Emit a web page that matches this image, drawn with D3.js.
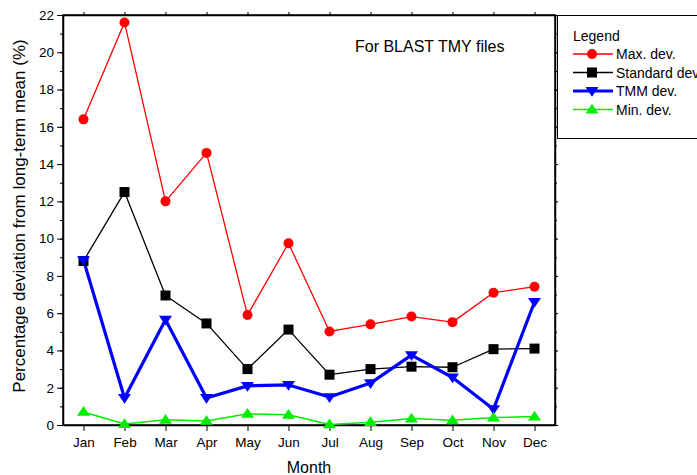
<!DOCTYPE html>
<html>
<head>
<meta charset="utf-8">
<script src="https://cdn.jsdelivr.net/npm/d3@7"></script>
<style>
  html, body { margin: 0; padding: 0; background: #fff; }
  svg { display: block; font-family: "Liberation Sans", Arial, sans-serif; }
</style>
</head>
<body>
<svg id="chart" width="697" height="475"></svg>
<script>
// Monthly percentage deviation from the long-term mean
const months = ["Jan","Feb","Mar","Apr","May","Jun","Jul","Aug","Sep","Oct","Nov","Dec"];
const maxDev = [16.4, 21.6, 12.0, 14.6, 5.9, 9.75, 5.02, 5.4, 5.82, 5.52, 7.1, 7.42];
const stdDev = [8.8, 12.5, 6.95, 5.45, 3.0, 5.12, 2.7, 3.0, 3.13, 3.1, 4.07, 4.1];
const tmmDev = [8.85, 1.45, 5.65, 1.45, 2.1, 2.15, 1.5, 2.25, 3.75, 2.55, 0.85, 6.6];
const minDev = [0.7, 0.05, 0.28, 0.22, 0.6, 0.55, 0.03, 0.15, 0.35, 0.25, 0.4, 0.45];
const yTicks = [0, 2, 4, 6, 8, 10, 12, 14, 16, 18, 20, 22];
const yMinorTicks = d3.range(0, 23, 1);

const series = [
  { name: "Max. dev.",     values: maxDev, color: "#ff0000", width: 1.3, symbol: "circle" },
  { name: "Standard dev.", values: stdDev, color: "#000000", width: 1.3, symbol: "square" },
  { name: "TMM dev.",      values: tmmDev, color: "#0000ff", width: 3.2, symbol: "down" },
  { name: "Min. dev.",     values: minDev, color: "#00ee00", width: 1.5, symbol: "up" }
];

const svg = d3.select("#chart");
const plot = { left: 63, right: 555, top: 15, bottom: 425 };

const x = d3.scalePoint().domain(months).range([plot.left, plot.right]).padding(0.5);
const y = d3.scaleLinear().domain([0, 22]).range([plot.bottom, plot.top]);

// marker drawing
function drawMarker(g, type, cx, cy, color) {
  if (type === "circle") {
    g.append("circle").attr("cx", cx).attr("cy", cy).attr("r", 5).attr("fill", color);
  } else if (type === "square") {
    g.append("rect").attr("x", cx - 5).attr("y", cy - 5).attr("width", 10).attr("height", 10).attr("fill", color);
  } else if (type === "down") {
    const s = 6.5;
    g.append("path").attr("d", `M${cx - s},${cy - s * 0.6}L${cx + s},${cy - s * 0.6}L${cx},${cy + s * 0.9}Z`).attr("fill", color);
  } else if (type === "up") {
    const s = 6.5;
    g.append("path").attr("d", `M${cx - s},${cy + s * 0.6}L${cx + s},${cy + s * 0.6}L${cx},${cy - s * 0.9}Z`).attr("fill", color);
  }
}

// axes
const axisStyle = g => {
  g.selectAll("path.domain").attr("stroke", "#000").attr("stroke-width", 1.5);
  g.selectAll(".tick line").attr("stroke", "#000").attr("stroke-width", 1);
  g.selectAll(".tick text").attr("font-size", 13.5).attr("fill", "#000")
    .attr("font-family", "'Liberation Sans', Arial, sans-serif");
};

// minor y ticks
svg.append("g").attr("transform", `translate(${plot.left},0)`)
  .call(d3.axisLeft(y).tickValues(yMinorTicks).tickSize(3).tickFormat(""))
  .call(g => g.select(".domain").remove())
  .call(axisStyle);
svg.append("g").attr("transform", `translate(${plot.right},0)`)
  .call(d3.axisRight(y).tickValues(yMinorTicks).tickSize(2).tickFormat(""))
  .call(g => g.select(".domain").remove())
  .call(axisStyle);

svg.append("g").attr("transform", `translate(${plot.left},0)`)
  .call(d3.axisLeft(y).tickValues(yTicks).tickSize(6).tickSizeOuter(0).tickPadding(3))
  .call(axisStyle);
svg.append("g").attr("transform", `translate(${plot.right},0)`)
  .call(d3.axisRight(y).tickValues(yTicks).tickSize(3).tickSizeOuter(0).tickFormat(""))
  .call(axisStyle);
svg.append("g").attr("transform", `translate(0,${plot.bottom})`)
  .call(d3.axisBottom(x).tickSize(6).tickSizeOuter(0).tickPadding(6))
  .call(axisStyle);
svg.append("g").attr("transform", `translate(0,${plot.top})`)
  .call(d3.axisTop(x).tickSize(3).tickSizeOuter(0).tickFormat(""))
  .call(axisStyle);

// frame
svg.append("rect").attr("x", plot.left).attr("y", plot.top)
  .attr("width", plot.right - plot.left).attr("height", plot.bottom - plot.top)
  .attr("fill", "none").attr("stroke", "#000").attr("stroke-width", 1.5);

// lines and markers
const line = d3.line().x((d, i) => x(months[i])).y(d => y(d));
series.forEach(s => {
  svg.append("path").datum(s.values).attr("d", line)
    .attr("fill", "none").attr("stroke", s.color).attr("stroke-width", s.width)
    .attr("stroke-linejoin", "round");
});
series.forEach(s => {
  const g = svg.append("g");
  s.values.forEach((v, i) => drawMarker(g, s.symbol, x(months[i]), y(v), s.color));
});

// annotation
svg.append("text").attr("x", 355).attr("y", 52).attr("font-size", 16).attr("fill", "#000")
  .text("For BLAST TMY files");

// axis titles
svg.append("text").attr("x", (plot.left + plot.right) / 2).attr("y", 473)
  .attr("text-anchor", "middle").attr("font-size", 16).text("Month");
svg.append("text").attr("transform", `translate(25,216) rotate(-90)`)
  .attr("text-anchor", "middle").attr("font-size", 17)
  .text("Percentage deviation from long-term mean (%)");

// legend
const lg = svg.append("g");
lg.append("rect").attr("x", 557.5).attr("y", 15.5).attr("width", 150).attr("height", 123)
  .attr("fill", "#fff").attr("stroke", "#000").attr("stroke-width", 1);
lg.append("text").attr("x", 573).attr("y", 41).attr("font-size", 14).text("Legend");
series.forEach((s, i) => {
  const cy = 54 + i * 18.5;
  lg.append("line").attr("x1", 573).attr("x2", 613).attr("y1", cy).attr("y2", cy)
    .attr("stroke", s.color).attr("stroke-width", s.width);
  drawMarker(lg, s.symbol, 592, cy, s.color);
  lg.append("text").attr("x", 616).attr("y", cy + 5).attr("font-size", 14).text(s.name);
});
</script>
</body>
</html>
